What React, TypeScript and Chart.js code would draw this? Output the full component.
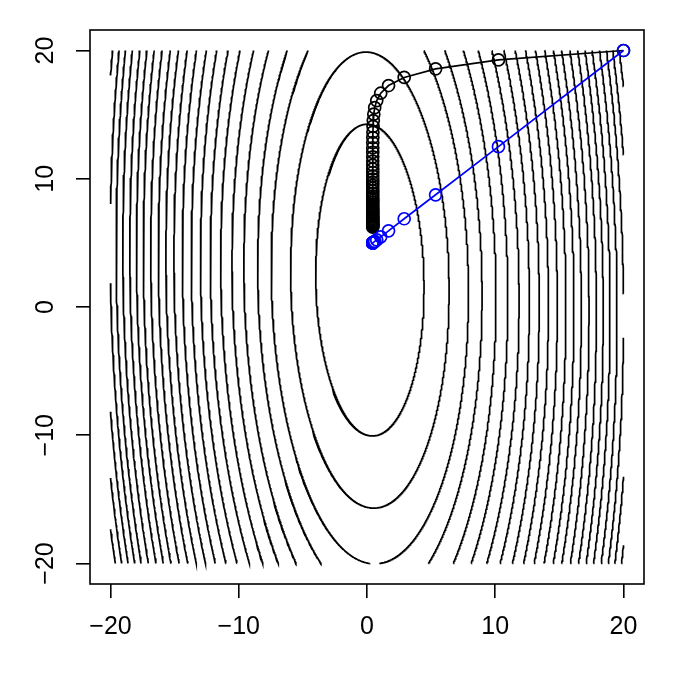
import React, { useEffect, useRef } from "react";
import { Chart, registerables } from "chart.js";

Chart.register(...registerables);

// ---------- data ----------
const X_TICKS = [-20, -10, 0, 10, 20];
const Y_TICKS = [-20, -10, 0, 10, 20];
const AXIS_MIN = -21.6;
const AXIS_MAX = 21.6;
const GRID_MIN = -20;
const GRID_MAX = 20;

// contour surface: f(x,y) = (x - (SHIFT_B - SHIFT_A*y))^2 + Y_WEIGHT*(y - Y_CENTER)^2
const SHIFT_A = 0.017;
const SHIFT_B = 0.26;
const Y_WEIGHT = 0.1205;
const Y_CENTER = 2.1;
const CONTOUR_LEVELS = [
  17.8, 38.1, 59.0, 76.4, 96.4, 115.4, 135.1, 154.4, 174.1, 193.5, 213.3, 233.0,
  252.5, 271.4, 291.4, 311.3, 330.5, 349.7, 370.4, 390.5, 409.2, 428.8, 448.4, 468.0,
];

// black path (plain gradient descent)
const BLACK_X = [
  20, 10.25, 5.35, 2.9, 1.68, 1.07, 0.76, 0.6, 0.53, 0.49, 0.47, 0.46, 0.455,
  0.45, 0.45, 0.45, 0.45, 0.45, 0.45, 0.45, 0.45, 0.45, 0.45, 0.45, 0.45, 0.45,
  0.45, 0.45, 0.45, 0.45, 0.45, 0.45, 0.45, 0.45, 0.45, 0.45, 0.45, 0.45, 0.45,
  0.45, 0.45, 0.45, 0.45, 0.45, 0.45, 0.45, 0.45, 0.45, 0.45, 0.45, 0.45,
];
const BLACK_Y = [
  20, 19.27, 18.57, 17.9, 17.27, 16.67, 16.1, 15.55, 15.04, 14.54, 14.08, 13.63,
  13.21, 12.81, 12.42, 12.06, 11.71, 11.38, 11.07, 10.77, 10.49, 10.22, 9.97,
  9.72, 9.49, 9.27, 9.06, 8.86, 8.67, 8.49, 8.32, 8.16, 8.0, 7.86, 7.72, 7.58,
  7.46, 7.34, 7.22, 7.11, 7.01, 6.91, 6.82, 6.73, 6.64, 6.56, 6.49, 6.41, 6.35,
  6.28, 6.22,
];

// blue path
const BLUE_X = [
  20, 10.25, 5.35, 2.9, 1.68, 1.07, 0.76, 0.6, 0.53, 0.49, 0.47, 0.46, 0.455,
  0.45, 0.45, 0.45, 0.45, 0.45, 0.45, 0.45,
];
const BLUE_Y = [
  20, 12.5, 8.75, 6.88, 5.94, 5.47, 5.23, 5.12, 5.06, 5.03, 5.02, 5.01, 5.0,
  5.0, 5.0, 5.0, 5.0, 5.0, 5.0, 5.0,
];

// ---------- helpers ----------
type P = { x: number; y: number };

function ellipsePoint(level: number, t: number): P {
  const sx = Math.sqrt(level);
  const sy = Math.sqrt(level / Y_WEIGHT);
  const y = Y_CENTER + sy * Math.sin(t);
  const x = SHIFT_B - SHIFT_A * y + sx * Math.cos(t);
  return { x, y };
}

const inBox = (p: P) =>
  p.x >= GRID_MIN && p.x <= GRID_MAX && p.y >= GRID_MIN && p.y <= GRID_MAX;

function edgePoint(level: number, tIn: number, tOut: number): P {
  let a = tIn;
  let b = tOut;
  for (let i = 0; i < 40; i++) {
    const m = (a + b) / 2;
    if (inBox(ellipsePoint(level, m))) a = m;
    else b = m;
  }
  return ellipsePoint(level, a);
}

function contourPieces(level: number): P[][] {
  const N = 1440;
  const step = (2 * Math.PI) / N;
  let start = -1;
  for (let i = 0; i < N; i++) {
    if (!inBox(ellipsePoint(level, i * step))) {
      start = i;
      break;
    }
  }
  if (start < 0) {
    const pts: P[] = [];
    for (let i = 0; i <= N; i++) pts.push(ellipsePoint(level, i * step));
    return [pts];
  }
  const pieces: P[][] = [];
  let cur: P[] | null = null;
  for (let k = 1; k <= N; k++) {
    const t = (start + k) * step;
    const tPrev = (start + k - 1) * step;
    const p = ellipsePoint(level, t);
    const pin = inBox(p);
    if (pin && !cur) cur = [edgePoint(level, t, tPrev), p];
    else if (pin && cur) cur.push(p);
    else if (!pin && cur) {
      cur.push(edgePoint(level, tPrev, t));
      pieces.push(cur);
      cur = null;
    }
  }
  if (cur) pieces.push(cur);
  return pieces;
}

const fmt = (v: number) => (v < 0 ? "\u2212" + Math.abs(v) : String(v));
const FONT_FAMILY = '"Liberation Sans", Arial, Helvetica, sans-serif';
const FONT_SIZE = 25;

const framePlugin = {
  id: "rframe",
  afterDraw(chart: any) {
    const { ctx, chartArea: a, scales } = chart;
    ctx.save();
    ctx.strokeStyle = "#000";
    ctx.lineWidth = 1.6;
    ctx.strokeRect(a.left, a.top, a.right - a.left, a.bottom - a.top);
    ctx.fillStyle = "#000";
    ctx.font = `${FONT_SIZE}px ${FONT_FAMILY}`;
    ctx.textAlign = "center";
    ctx.textBaseline = "middle";
    for (const v of Y_TICKS) {
      const py = scales.y.getPixelForValue(v);
      ctx.save();
      ctx.translate(a.left - 44, py);
      ctx.rotate(-Math.PI / 2);
      ctx.fillText(fmt(v), 0, 0);
      ctx.restore();
    }
    ctx.restore();
  },
};

export default function App() {
  const ref = useRef<HTMLCanvasElement | null>(null);

  useEffect(() => {
    if (!ref.current) return;
    const datasets: any[] = [];
    datasets.push({
      data: BLUE_X.map((x, i) => ({ x, y: BLUE_Y[i] })),
      showLine: true,
      borderColor: "#0000FF",
      borderWidth: 1.7,
      pointRadius: 6,
      pointBorderWidth: 1.7,
      pointBorderColor: "#0000FF",
      pointBackgroundColor: "rgba(0,0,0,0)",
      order: 0,
    });
    datasets.push({
      data: BLACK_X.map((x, i) => ({ x, y: BLACK_Y[i] })),
      showLine: true,
      borderColor: "#000",
      borderWidth: 1.7,
      pointRadius: 6,
      pointBorderWidth: 1.7,
      pointBorderColor: "#000",
      pointBackgroundColor: "rgba(0,0,0,0)",
      order: 1,
    });
    for (const lv of CONTOUR_LEVELS) {
      for (const piece of contourPieces(lv)) {
        datasets.push({
          data: piece,
          showLine: true,
          borderColor: "#000",
          borderWidth: 1.7,
          pointRadius: 0,
          tension: 0,
          order: 2,
        });
      }
    }

    const chart = new Chart(ref.current, {
      type: "scatter",
      data: { datasets },
      options: {
        animation: false,
        responsive: false,
        devicePixelRatio: 1,
        events: [],
        layout: { padding: { top: 30, right: 31, left: 0, bottom: 0 } },
        plugins: { legend: { display: false }, tooltip: { enabled: false } },
        scales: {
          x: {
            type: "linear",
            min: AXIS_MIN,
            max: AXIS_MAX,
            afterBuildTicks: (s: any) => {
              s.ticks = X_TICKS.map((v) => ({ value: v }));
            },
            afterFit: (s: any) => {
              s.height = 91;
            },
            grid: {
              display: true,
              drawOnChartArea: false,
              drawTicks: true,
              tickLength: 14,
              color: "#000",
              lineWidth: 1.6,
            },
            border: { display: false },
            ticks: {
              color: "#000",
              font: { size: FONT_SIZE, family: FONT_FAMILY },
              padding: 14,
              maxRotation: 0,
              minRotation: 0,
              autoSkip: false,
              callback: (v: any) => fmt(Number(v)),
            },
          },
          y: {
            type: "linear",
            min: AXIS_MIN,
            max: AXIS_MAX,
            afterBuildTicks: (s: any) => {
              s.ticks = Y_TICKS.map((v) => ({ value: v }));
            },
            afterFit: (s: any) => {
              s.width = 90;
            },
            grid: {
              display: true,
              drawOnChartArea: false,
              drawTicks: true,
              tickLength: 14,
              color: "#000",
              lineWidth: 1.6,
            },
            border: { display: false },
            ticks: { display: false },
          },
        },
      },
      plugins: [framePlugin],
    });
    return () => chart.destroy();
  }, []);

  return (
    <div
      style={{
        position: "fixed",
        left: 0,
        top: 0,
        width: 675,
        height: 675,
        background: "#fff",
      }}
    >
      <canvas ref={ref} width={675} height={675} />
    </div>
  );
}
